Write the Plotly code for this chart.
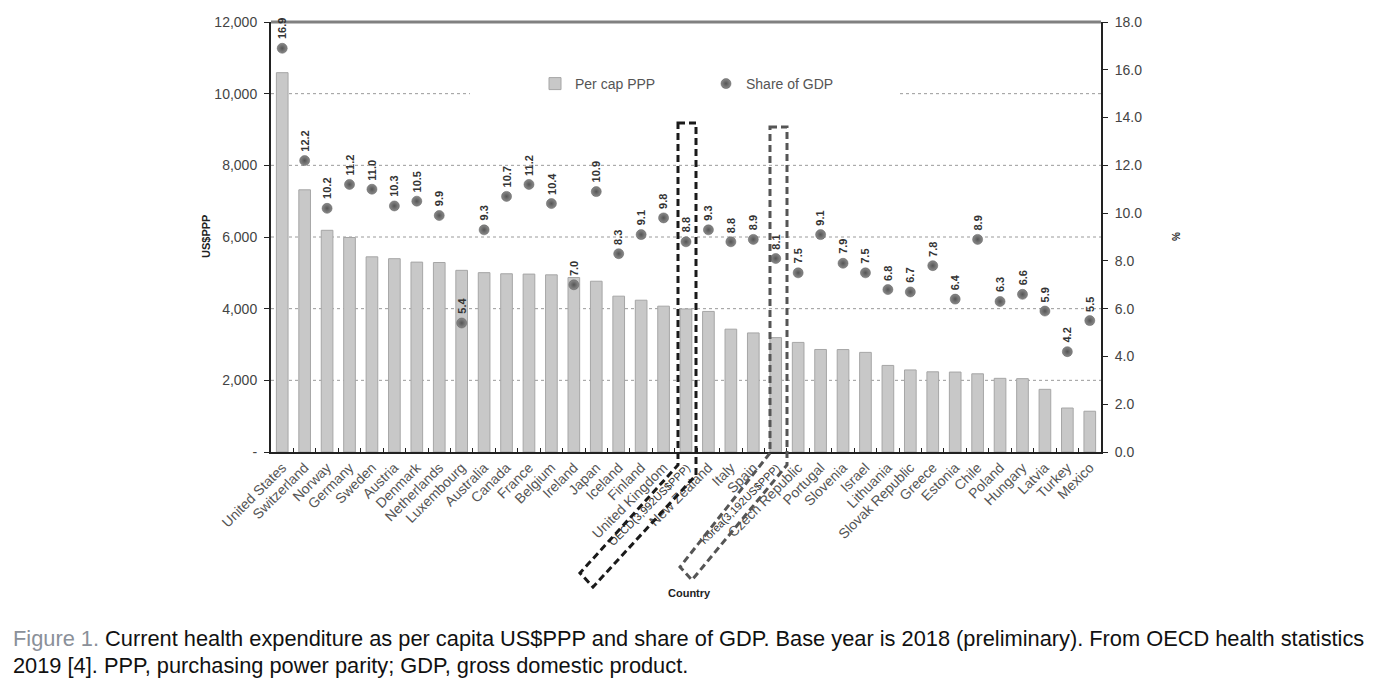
import plotly.graph_objects as go

countries = ["United States", "Switzerland", "Norway", "Germany", "Sweden", "Austria", "Denmark",
             "Netherlands", "Luxembourg", "Australia", "Canada", "France", "Belgium", "Ireland",
             "Japan", "Iceland", "Finland", "United Kingdom", "OECD(3,992US$PPP)", "New Zealand",
             "Italy", "Spain", "Korea(3,192US$PPP)", "Czech Republic", "Portugal", "Slovenia",
             "Israel", "Lithuania", "Slovak Republic", "Greece", "Estonia", "Chile", "Poland",
             "Hungary", "Latvia", "Turkey", "Mexico"]
per_cap_ppp = [10586, 7317, 6187, 5986, 5447, 5395, 5299, 5288, 5070, 5005, 4974, 4965, 4944,
               4869, 4766, 4349, 4236, 4070, 3992, 3923, 3428, 3323, 3192, 3058, 2861, 2859,
               2780, 2416, 2290, 2238, 2231, 2182, 2056, 2047, 1749, 1227, 1138]
share_gdp = [16.9, 12.2, 10.2, 11.2, 11.0, 10.3, 10.5, 9.9, 5.4, 9.3, 10.7, 11.2, 10.4, 7.0,
             10.9, 8.3, 9.1, 9.8, 8.8, 9.3, 8.8, 8.9, 8.1, 7.5, 9.1, 7.9, 7.5, 6.8, 6.7, 7.8,
             6.4, 8.9, 6.3, 6.6, 5.9, 4.2, 5.5]
left_ticks = [0, 2000, 4000, 6000, 8000, 10000, 12000]
left_ticktext = ["-", "2,000", "4,000", "6,000", "8,000", "10,000", "12,000"]
right_ticks = [0, 2, 4, 6, 8, 10, 12, 14, 16, 18]
highlight = {"OECD(3,992US$PPP)", "Korea(3,192US$PPP)"}

# plot area in screenshot pixels (page has an 8px body margin)
OFF = 8
FW, FH = 1380 - 2 * OFF, 693 - 2 * OFF
L, R, T, B = 271, 1101, 22, 452
W, H = R - L, B - T


def px(x):
    return (x - L) / W


def py(y):
    return (B - y) / H


ticktext = [f"<span style='font-size:11px;color:#333'>{c}</span>" if c in highlight else c
            for c in countries]

fig = go.Figure()
fig.add_trace(go.Bar(
    x=countries, y=per_cap_ppp, name="Per cap PPP", width=0.52,
    marker=dict(color="#c8c8c8", line=dict(color="#a6a6a6", width=1)),
))
fig.add_trace(go.Scatter(
    x=countries, y=share_gdp, name="Share of GDP", mode="markers", yaxis="y2",
    marker=dict(size=10, color="#8a8a8a", gradient=dict(type="radial", color="#555555"),
                line=dict(color="#5a5a5a", width=0.5)),
))

annotations = []
for c, v in zip(countries, share_gdp):
    annotations.append(dict(x=c, y=v, xref="x", yref="y2", text=f"<b>{v:.1f}</b>",
                            textangle=-90, showarrow=False, yanchor="bottom", yshift=7,
                            font=dict(size=11, color="#333", family="Liberation Sans, Arial")))

cap_font = dict(size=21.8, color="#111", family="Liberation Sans, Arial")
annotations += [
    dict(x=px(206), y=py(237), xref="paper", yref="paper", text="<b>US$PPP</b>", textangle=-90,
         xanchor="center", yanchor="middle",
         showarrow=False, font=dict(size=11, color="#222", family="Liberation Sans, Arial")),
    dict(x=px(1176), y=py(237), xref="paper", yref="paper", text="<b>%</b>", textangle=-90,
         xanchor="center", yanchor="middle",
         showarrow=False, font=dict(size=10, color="#222", family="Liberation Sans, Arial")),
    dict(x=px(689), y=py(593), xref="paper", yref="paper", text="<b>Country</b>",
         xanchor="center", yanchor="middle",
         showarrow=False, font=dict(size=11, color="#222", family="Liberation Sans, Arial")),
    dict(x=px(11), y=py(638), xref="paper", yref="paper", xanchor="left", yanchor="middle",
         text="<span style='color:#8a9099'>Figure 1.</span> Current health expenditure as per capita US$PPP and share of GDP. Base year is 2018 (preliminary). From OECD health statistics",
         showarrow=False, font=cap_font),
    dict(x=px(11), y=py(665), xref="paper", yref="paper", xanchor="left", yanchor="middle",
         text="2019 [4]. PPP, purchasing power parity; GDP, gross domestic product.",
         showarrow=False, font=cap_font),
]

shapes = []
# dashed gridlines
for g in left_ticks[1:-1]:
    if g == 10000:
        segs = [(0, px(470)), (px(900), 1)]
    else:
        segs = [(0, 1)]
    for a, b in segs:
        shapes.append(dict(type="line", xref="paper", yref="y", x0=a, x1=b, y0=g, y1=g,
                           line=dict(color="#9a9a9a", width=1, dash="dot"), layer="below"))
# top border
shapes.append(dict(type="line", xref="paper", yref="paper", x0=0, x1=1, y0=1, y1=1,
                   line=dict(color="#808080", width=3)))


def box_path(pts):
    return "M " + " L ".join(f"{px(x):.5f},{py(y):.5f}" for x, y in pts) + " Z"


shapes.append(dict(type="path", xref="paper", yref="paper",
                   path=box_path([(678, 123), (696, 123), (696, 475), (593, 587), (580, 573), (678, 465)]),
                   line=dict(color="#1a1a1a", width=3, dash="7px,4px")))
shapes.append(dict(type="path", xref="paper", yref="paper",
                   path=box_path([(770, 127), (787, 127), (787, 465), (692, 580), (680, 567), (770, 453)]),
                   line=dict(color="#555555", width=3, dash="7px,4px")))

fig.update_layout(
    width=FW, height=FH,
    margin=dict(l=L - OFF, r=FW - (R - OFF), t=T - OFF, b=FH - (B - OFF), autoexpand=False),
    paper_bgcolor="white", plot_bgcolor="white",
    font=dict(family="Liberation Sans, Arial", color="#444"),
    showlegend=True,
    legend=dict(orientation="h", x=px(535), y=py(84), xanchor="left", yanchor="middle",
                bgcolor="rgba(0,0,0,0)", font=dict(size=14, color="#555",
                family="Liberation Sans, Arial"),
                entrywidth=126, itemwidth=30),
    xaxis=dict(type="category", tickangle=-45, tickmode="array", tickvals=countries,
               ticktext=ticktext, tickfont=dict(size=14, color="#555"),
               showline=True, linecolor="#222", linewidth=2, ticks="inside",
               tickson="boundaries", ticklen=4, tickcolor="#222", showgrid=False,
               range=[-0.5, len(countries) - 0.5]),
    yaxis=dict(range=[0, 12000], tickvals=left_ticks, ticktext=left_ticktext,
               showgrid=False, showline=True, linecolor="#222", linewidth=2,
               ticks="outside", ticklen=5, tickcolor="#222", zeroline=False,
               ticklabelstandoff=4,
               tickfont=dict(size=14, color="#444", family="Liberation Sans, Arial")),
    yaxis2=dict(range=[0, 18], tickvals=right_ticks, ticktext=[f"{t:.1f}" for t in right_ticks],
                overlaying="y", side="right", showgrid=False, showline=True, linecolor="#222",
                linewidth=2, ticks="outside", ticklen=5, tickcolor="#222", zeroline=False,
                ticklabelstandoff=4,
                tickfont=dict(size=14, color="#444", family="Liberation Sans, Arial")),
    annotations=annotations,
    shapes=shapes,
)

fig.write_html("out.html")
